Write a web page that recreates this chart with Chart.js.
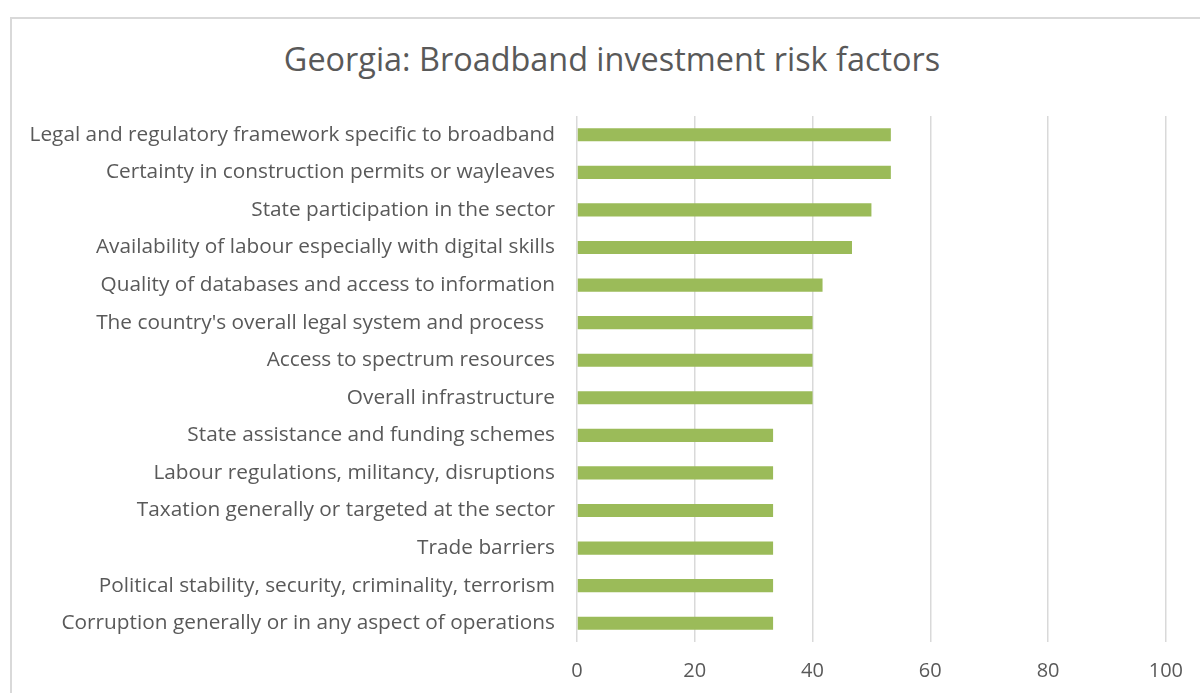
<!DOCTYPE html>
<html lang="en">
<head>
    <meta charset="UTF-8">
    <title>Georgia: Broadband investment risk factors</title>
    <script src="https://cdn.jsdelivr.net/npm/chart.js"></script>
    <style>
        html, body {
            margin: 0;
            padding: 0;
            width: 1200px;
            height: 693px;
            overflow: hidden;
            background: #ffffff;
            font-family: 'Open Sans', sans-serif;
        }
        .frame {
            position: absolute;
            left: 10px;
            top: 17px;
            width: 1220px;
            height: 720px;
            border: 2px solid #d9d9d9;
        }
        .chart-title {
            position: absolute;
            left: 0;
            top: 39px;
            width: 1224px;
            text-align: center;
            font-size: 32.4px;
            line-height: 38px;
            color: #595959;
            white-space: nowrap;
        }
        .chart-container {
            position: absolute;
            left: 0;
            top: 0;
            width: 1200px;
            height: 693px;
        }
    </style>
</head>
<body>
    <div class="frame"></div>
    <div class="chart-title">Georgia: Broadband investment risk factors</div>
    <div class="chart-container">
        <canvas id="riskChart"></canvas>
    </div>

    <script>
        const categories = [
            'Legal and regulatory framework specific to broadband',
            'Certainty in construction permits or wayleaves',
            'State participation in the sector',
            'Availability of labour especially with digital skills',
            'Quality of databases and access to information',
            "The country's overall legal system and process  ",
            'Access to spectrum resources',
            'Overall infrastructure',
            'State assistance and funding schemes',
            'Labour regulations, militancy, disruptions',
            'Taxation generally or targeted at the sector',
            'Trade barriers',
            'Political stability, security, criminality, terrorism',
            'Corruption generally or in any aspect of operations'
        ];
        const riskScores = [53.3, 53.3, 50, 46.7, 41.7, 40, 40, 40, 33.3, 33.3, 33.3, 33.3, 33.3, 33.3];
        const xTicks = [0, 20, 40, 60, 80, 100];

        const textColor = '#595959';
        const fontFamily = "'Open Sans', sans-serif";

        const ctx = document.getElementById('riskChart').getContext('2d');
        const riskChart = new Chart(ctx, {
            type: 'bar',
            data: {
                labels: categories,
                datasets: [{
                    label: 'Georgia',
                    data: riskScores,
                    backgroundColor: '#9bbb59',
                    borderWidth: 0,
                    barPercentage: 0.35,
                    categoryPercentage: 1
                }]
            },
            options: {
                indexAxis: 'y',
                responsive: true,
                maintainAspectRatio: false,
                animation: false,
                layout: {
                    // title is an html div above, so leave room for it
                    padding: { left: 0, right: 34, top: 116, bottom: 0 }
                },
                scales: {
                    x: {
                        min: 0,
                        max: 100,
                        afterBuildTicks: (scale) => {
                            scale.ticks = xTicks.map(v => ({ value: v }));
                        },
                        afterFit: (scale) => { scale.height = 51; },
                        grid: {
                            color: '#d9d9d9',
                            lineWidth: 1.5,
                            drawTicks: false
                        },
                        border: { display: false },
                        ticks: {
                            padding: 17,
                            color: textColor,
                            font: { family: fontFamily, size: 20 }
                        }
                    },
                    y: {
                        afterFit: (scale) => { scale.width = 577; },
                        grid: { display: false, drawTicks: false },
                        border: { display: false },
                        ticks: {
                            padding: 22,
                            color: textColor,
                            font: { family: fontFamily, size: 20.8 }
                        }
                    }
                },
                plugins: {
                    legend: { display: false },
                    tooltip: { enabled: false },
                    title: { display: false }
                }
            }
        });
    </script>
</body>
</html>
